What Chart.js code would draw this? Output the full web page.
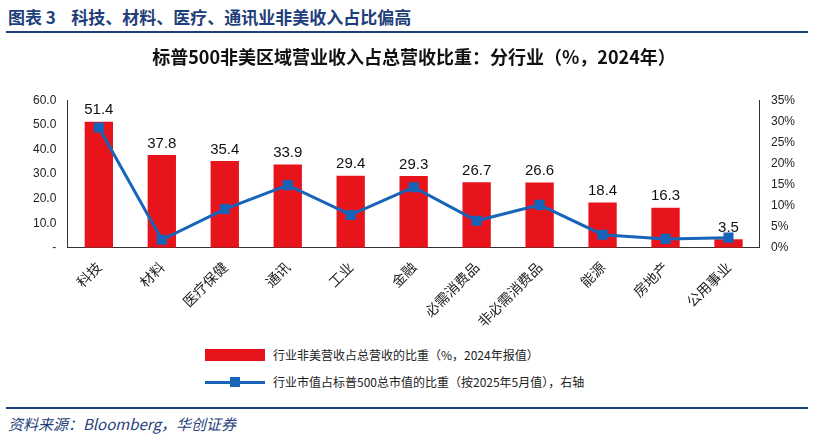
<!DOCTYPE html>
<html><head><meta charset="utf-8">
<script src="https://cdn.jsdelivr.net/npm/chart.js@4.4.0/dist/chart.umd.min.js"></script>
<style>
body{margin:0;width:814px;height:441px;background:#fff;font-family:"Noto Sans CJK SC",sans-serif;overflow:hidden;position:relative}
#head{position:absolute;left:8px;top:4px;font-size:17px;font-weight:bold;color:#1f3f7a}
.rule{position:absolute;left:6px;width:802px;height:2px;background:#1f3f7a}
#wrap{position:absolute;left:0;top:38px;width:814px;height:295px}
.leg{position:absolute;font-size:12px;color:#222;display:flex;align-items:center}
#src{position:absolute;left:8px;top:413px;font-size:15px;font-style:italic;color:#1f3f7a;font-family:"Noto Sans CJK SC","Liberation Serif",serif}
</style></head><body>
<div id="head">图表 3&nbsp;&nbsp;&nbsp;&nbsp;科技、材料、医疗、通讯业非美收入占比偏高</div>
<div class="rule" style="top:31px"></div>
<div id="wrap"><canvas id="c"></canvas></div>
<div class="leg" style="left:205px;top:346px"><span style="display:inline-block;width:60px;height:12px;background:#e8141c;margin-right:8px"></span>行业非美营收占总营收的比重（%，2024年报值）</div>
<div class="leg" style="left:205px;top:373px"><span style="position:relative;display:inline-block;width:60px;height:12px;margin-right:8px"><span style="position:absolute;left:0;top:5px;width:60px;height:3px;background:#1764b8"></span><span style="position:absolute;left:25px;top:1px;width:10px;height:10px;background:#1764b8"></span></span>行业市值占标普500总市值的比重（按2025年5月值），右轴</div>
<div class="rule" style="top:407px"></div>
<div id="src">资料来源：Bloomberg，华创证券</div>
<script>
const categories = ['科技','材料','医疗保健','通讯','工业','金融','必需消费品','非必需消费品','能源','房地产','公用事业'];
const nonUsShare = [51.4,37.8,35.4,33.9,29.4,29.3,26.7,26.6,18.4,16.3,3.5];
const mktCapShare = [28.6,1.9,9.2,14.9,7.8,14.4,6.4,10.2,3.1,2.1,2.4];

const barLabels = {
  id:'barLabels',
  afterDatasetsDraw(chart){
    const ctx = chart.ctx, meta = chart.getDatasetMeta(1);
    ctx.save();
    ctx.font = '15px "Liberation Sans", Arial';
    ctx.fillStyle = '#111';
    ctx.textAlign = 'center';
    ctx.textBaseline = 'bottom';
    meta.data.forEach((b,i)=>ctx.fillText(nonUsShare[i].toFixed(1), b.x, b.y-4));
    ctx.restore();
  }
};

new Chart(document.getElementById('c'), {
  data:{
    labels:categories,
    datasets:[
      {type:'line',data:mktCapShare,yAxisID:'y1',borderColor:'#1764b8',backgroundColor:'#1764b8',borderWidth:3,pointStyle:'rect',pointRadius:5,order:0},
      {type:'bar',data:nonUsShare,yAxisID:'y',backgroundColor:'#e8141c',barPercentage:0.45,categoryPercentage:1,order:1}
    ]
  },
  options:{
    responsive:true,maintainAspectRatio:false,animation:false,
    layout:{padding:{left:30,right:16,top:0}},
    plugins:{
      legend:{display:false},tooltip:{enabled:false},
      title:{display:true,text:'标普500非美区域营业收入占总营收比重：分行业（%，2024年）',color:'#111',font:{size:18,weight:'bold',family:'"Noto Sans CJK SC"'},padding:{top:8,bottom:33}}
    },
    scales:{
      x:{grid:{display:false},border:{color:'#333'},ticks:{color:'#222',maxRotation:45,minRotation:45,font:{size:14,family:'"Noto Sans CJK SC"'}}},
      y:{min:0,max:60,position:'left',grid:{display:false},border:{color:'#333'},
         ticks:{stepSize:10,color:'#222',font:{size:12,family:'"Liberation Sans"'},callback:v=>v===0?'-':v.toFixed(1)}},
      y1:{min:0,max:35,position:'right',grid:{display:false},border:{color:'#333'},
         ticks:{stepSize:5,color:'#222',font:{size:12,family:'"Liberation Sans"'},callback:v=>v+'%'}}
    }
  },
  plugins:[barLabels]
});
</script>
</body></html>
